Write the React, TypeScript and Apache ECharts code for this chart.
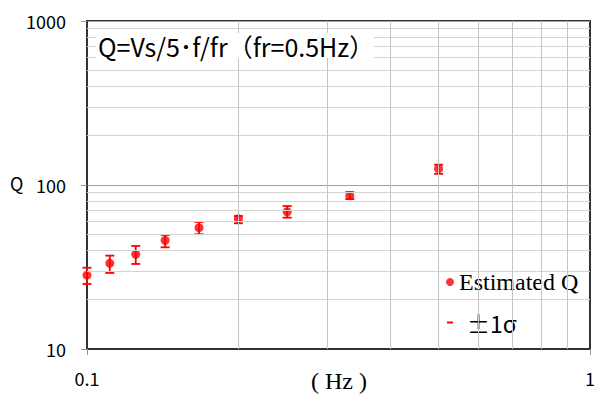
import React, { useEffect, useRef } from "react";
import * as echarts from "echarts";

const freqHz = [0.1, 0.111, 0.125, 0.143, 0.167, 0.2, 0.25, 0.333, 0.5];
const qEstimated = [28.2, 33.3, 37.8, 46.0, 54.9, 62.3, 68.7, 86.1, 125.7];
const qUpper = [31.3, 37.1, 42.5, 49.6, 59.5, 64.7, 74.4, 90.5, 133.0];
const qLower = [24.9, 29.1, 33.0, 41.7, 50.1, 58.4, 63.2, 82.0, 117.0];

const xMinorGrid = [0.2, 0.3, 0.4, 0.5, 0.6, 0.7, 0.8, 0.9];
const yMinorGrid = [20, 30, 40, 50, 60, 70, 80, 90, 200, 300, 400, 500, 600, 700, 800, 900];

const titleText = "Q=Vs/5\uFF65f/fr\uFF08fr=0.5Hz\uFF09";
const seriesName = "Estimated Q";
const errName = "\u00B11\u03C3";

export default function App() {
  const ref = useRef<HTMLDivElement>(null);
  useEffect(() => {
    if (!ref.current) return;
    const chart = echarts.init(ref.current, null, { renderer: "svg" });
    const sans = "'Noto Sans CJK JP', 'Noto Sans', sans-serif";
    const serif = "'Liberation Serif', 'DejaVu Serif', serif";
    const fmt = (v: number) => {
      const r = Math.round(v * 1000) / 1000;
      return String(r);
    };
    const gridMarks = [
      ...yMinorGrid.map((v) => ({ yAxis: v, lineStyle: { color: "#d4d4d4", width: 1, type: "solid" } })),
      ...xMinorGrid.map((v) => ({ xAxis: v, lineStyle: { color: "#c4c4c4", width: 1, type: "solid" } })),
    ];
    chart.setOption({
      animation: false,
      backgroundColor: "#fff",
      grid: {
        left: 87,
        right: 7,
        top: 21,
        bottom: 47,
        show: true,
        borderColor: "#333",
        borderWidth: 2,
        backgroundColor: "#fff",
      },
      title: {
        text: titleText,
        left: 96,
        top: 33,
        padding: [0, 0, 0, 2],
        backgroundColor: "#fff",
        textStyle: { fontFamily: sans, fontSize: 25, fontWeight: "normal", color: "#000" },
      },
      legend: [
        {
          data: [{ name: seriesName, icon: "circle" }],
          left: 443,
          top: 267,
          padding: [3, 6, 3, 3],
          itemWidth: 8,
          itemHeight: 8,
          backgroundColor: "#fff",
          selectedMode: false,
          textStyle: { fontFamily: serif, fontSize: 24, color: "#000" },
        },
        {
          data: [{ name: errName, icon: "rect" }],
          left: 444,
          top: 309,
          padding: [2, 2, 2, 3],
          itemWidth: 6,
          itemHeight: 2,
          selectedMode: false,
          textStyle: { fontFamily: sans, fontSize: 23, color: "#000", padding: [0, 0, 0, 9] },
        },
      ],
      xAxis: {
        type: "log",
        logBase: 10,
        min: 0.1,
        max: 1,
        axisLine: { show: true, lineStyle: { color: "#333", width: 2 } },
        axisTick: { show: true, length: 6, lineStyle: { color: "#999" } },
        axisLabel: { margin: 20, fontFamily: sans, fontSize: 18, color: "#000", formatter: fmt },
        splitLine: { show: false },
      },
      yAxis: {
        type: "log",
        logBase: 10,
        min: 10,
        max: 1000,
        axisLine: { show: true, lineStyle: { color: "#333", width: 2 } },
        axisTick: { show: true, length: 6, lineStyle: { color: "#999" } },
        axisLabel: { margin: 21, fontFamily: sans, fontSize: 18, color: "#000", formatter: fmt },
        splitLine: { show: true, lineStyle: { color: "#a0a0a0", width: 1 } },
      },
      graphic: [
        {
          type: "text",
          left: 10,
          top: 174,
          style: { text: "Q", font: `18px ${sans}`, fill: "#000" },
        },
        {
          type: "text",
          left: 311,
          top: 369,
          style: { text: "( Hz )", font: `24px ${serif}`, fill: "#000" },
        },
      ],
      series: [
        {
          type: "line",
          name: "grid",
          data: [],
          silent: true,
          z: 1,
          markLine: {
            silent: true,
            symbol: "none",
            label: { show: false },
            data: gridMarks,
          },
        },
        {
          type: "custom",
          name: errName,
          z: 3,
          itemStyle: { color: "#ff0000" },
          encode: { x: 0, y: [1, 2] },
          data: freqHz.map((f, i) => [f, qLower[i], qUpper[i]]),
          renderItem: (_params: any, api: any) => {
            const x = api.value(0);
            const lo = api.coord([x, api.value(1)]);
            const hi = api.coord([x, api.value(2)]);
            const w = 4.5;
            const style = { stroke: "#ff0000", lineWidth: 1.8 };
            return {
              type: "group",
              children: [
                { type: "line", shape: { x1: lo[0], y1: lo[1], x2: hi[0], y2: hi[1] }, style },
                { type: "line", shape: { x1: lo[0] - w, y1: lo[1], x2: lo[0] + w, y2: lo[1] }, style },
                { type: "line", shape: { x1: hi[0] - w, y1: hi[1], x2: hi[0] + w, y2: hi[1] }, style },
              ],
            };
          },
        },
        {
          type: "scatter",
          name: seriesName,
          z: 4,
          symbol: "circle",
          symbolSize: 9,
          itemStyle: { color: "#ff0000" },
          data: freqHz.map((f, i) => [f, qEstimated[i]]),
        },
      ],
    });
    return () => chart.dispose();
  }, []);
  return (
    <div
      ref={ref}
      style={{ position: "fixed", left: 0, top: 0, width: 598, height: 396 }}
    />
  );
}
